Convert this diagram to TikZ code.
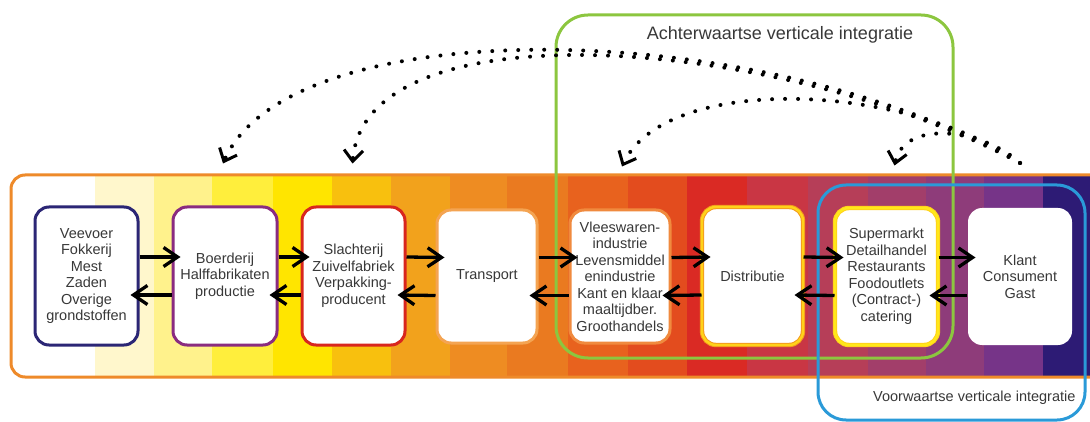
\documentclass[tikz,border=0pt]{standalone}
\usepackage{fontspec}
\setmainfont{Liberation Sans}
\usetikzlibrary{arrows.meta}

\definecolor{bandorange}{HTML}{EE8A2A}
\definecolor{boxnavy}{HTML}{2B2675}
\definecolor{boxpurple}{HTML}{8A2C80}
\definecolor{boxred}{HTML}{D8261E}
\definecolor{boxpeach}{HTML}{F4A452}
\definecolor{boxamber}{HTML}{F08A3E}
\definecolor{boxorange}{HTML}{F39A1E}
\definecolor{boxgold}{HTML}{FFD21A}
\definecolor{boxyellow}{HTML}{FFE81A}
\definecolor{backgreen}{HTML}{8CC63F}
\definecolor{forwblue}{HTML}{2A9AD8}
\definecolor{txt}{HTML}{383838}

\begin{document}
\begin{tikzpicture}[x=1pt,y=-1pt,
  box/.style={rectangle, rounded corners=14pt, fill=white, line width=3pt,
    align=center, text=txt, inner sep=2pt,
    font=\fontsize{14.5}{16.5}\selectfont},
  flow/.style={line width=3.3pt, -{Straight Barb[length=14pt,width=19pt]}},
  hint/.style={line width=4pt, line cap=round, dash pattern=on 0pt off 13pt,
    -{Straight Barb[length=11pt,width=19pt,line width=3pt]}},
  frame/.style={line width=3pt, rounded corners=32pt}]
  \useasboundingbox (0,0) rectangle (1090,422);

  % colour band
  \begin{scope}
    \clip[rounded corners=14pt] (11,175) rectangle (1110,377);
    \foreach \xa/\xb/\col in {95/154/FFF7CC, 154/212/FFF28C, 212/273/FFEE3C,
        273/332/FFE500, 332/391/F8C00E, 391/450/F2A21C, 450/507/EE8C22,
        507/568/EA7A20, 568/628/E8621E, 628/687/E34C1E, 687/747/DA2A24,
        747/808/C93644, 808/868/B63E58, 868/926/A23E6A, 926/984/8E3C7A,
        984/1043/763488, 1043/1110/2D1B75}{
      \definecolor{band}{HTML}{\col}
      \fill[band] (\xa,170) rectangle (\xb,380);
    }
  \end{scope}
  \draw[bandorange, line width=3pt, rounded corners=14pt] (11,175) rectangle (1110,377);

  % integratie frames
  \draw[frame, backgreen] (556,15) rectangle (953,358);
  \draw[frame, forwblue, rounded corners=28pt] (818,185) rectangle (1085,420);
  \node[text=txt, font=\fontsize{18}{20}\selectfont] (achter) at (780,35)
    {Achterwaartse verticale integratie};
  \node[text=txt, font=\fontsize{14.5}{16}\selectfont, anchor=east] (voor) at (1079,398)
    {Voorwaartse verticale integratie};

  % ketenschakels
  \node[box, draw=boxnavy, minimum width=103pt, minimum height=138pt] (veevoer) at (86.5,276)
    {Veevoer\\Fokkerij\\Mest\\Zaden\\Overige\\grondstoffen};
  \node[box, draw=boxpurple, minimum width=104pt, minimum height=138pt] (boerderij) at (225,276)
    {Boerderij\\Halffabrikaten\\productie};
  \node[box, draw=boxred, minimum width=103pt, minimum height=138pt] (slachterij) at (353.5,276)
    {Slachterij\\Zuivelfabriek\\Verpakking-\\producent};
  \node[box, draw=boxpeach, minimum width=100pt, minimum height=133pt] (transport) at (487,276.5)
    {Transport};
  \node[box, draw=boxamber, minimum width=100pt, minimum height=133pt] (vleeswaren) at (620,276.5)
    {Vleeswaren-\\industrie\\Levensmiddel\\enindustrie\\Kant en klaar\\maaltijdber.\\Groothandels};
  \node[box, draw=boxorange, double=boxgold, double distance=2.4pt, line width=1pt,
    minimum width=101pt, minimum height=138pt] (distributie) at (752.5,276)
    {Distributie};
  \node[box, draw=boxgold, double=boxyellow, double distance=2.4pt, line width=1pt,
    minimum width=103pt, minimum height=137pt] (supermarkt) at (886.5,276.5)
    {Supermarkt\\Detailhandel\\Restaurants\\Foodoutlets\\(Contract-)\\catering};
  \node[box, minimum width=104pt, minimum height=137pt] (klant) at (1020,276.5)
    {Klant\\Consument\\Gast};

  % goederen- en informatiestroom
  \foreach \a/\b in {veevoer/boerderij, boerderij/slachterij, slachterij/transport,
      transport/vleeswaren, vleeswaren/distributie, distributie/supermarkt, supermarkt/klant}{
    \draw[flow] ([yshift=19pt]\a.east) -- ([xshift=9pt,yshift=19pt]\b.west);
    \draw[flow] ([yshift=-19pt]\b.west) -- ([xshift=-9pt,yshift=-19pt]\a.east);
  }

  % integratiebogen
  \coordinate (src) at (1020,163);
  \draw[hint] (src) .. controls (760,15) and (290,10) .. ([xshift=-2pt,yshift=42pt]boerderij.north);
  \draw[hint] (src) .. controls (780,35) and (365,5) .. ([xshift=-1pt,yshift=42pt]slachterij.north);
  \draw[hint] (src) .. controls (900,80) and (665,75) .. ([xshift=2pt,yshift=42pt]vleeswaren.north);
  \draw[hint] (src) .. controls (985,130) and (905,118) .. ([xshift=8pt,yshift=42pt]supermarkt.north);
\end{tikzpicture}
\end{document}
